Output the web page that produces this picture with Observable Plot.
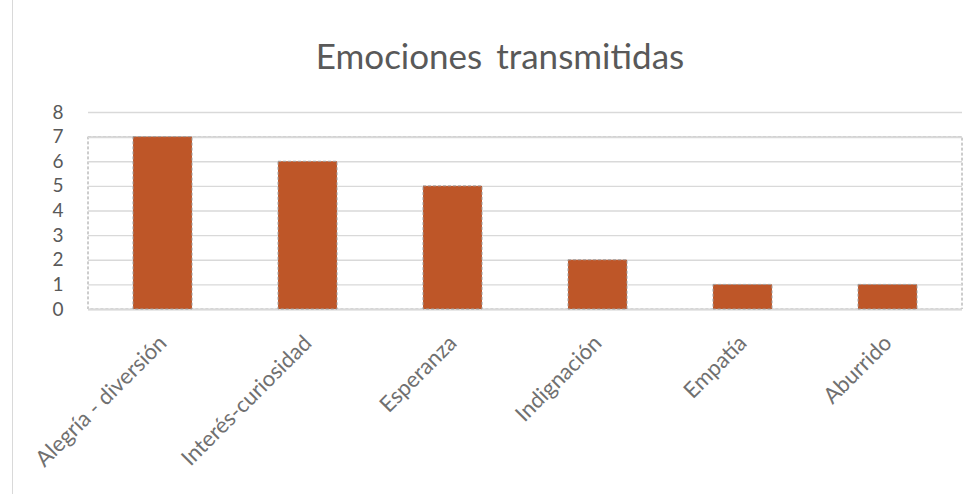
<!DOCTYPE html>
<html>
<head>
<meta charset="utf-8">
<script src="https://cdn.jsdelivr.net/npm/d3@7"></script>
<script src="https://cdn.jsdelivr.net/npm/@observablehq/plot@0.6"></script>
<style>
  html, body { margin: 0; padding: 0; background: #fff; }
  #wrap { position: relative; width: 976px; height: 494px; overflow: hidden; }
  #edge { position: absolute; left: 12px; top: 0; width: 0; height: 494px; border-left: 1px solid #d9d9d9; }
  #title { position: absolute; left: 0; width: 1000px; top: 34px; text-align: center;
           font-family: Lato, "Open Sans", sans-serif; font-size: 35px; color: #595959; word-spacing: 5px; }
  #chart { position: absolute; left: 0; top: 0; }
</style>
</head>
<body>
<div id="wrap">
  <div id="edge"></div>
  <div id="chart"></div>
  <div id="title">Emociones transmitidas</div>
</div>
<script>
const categories = ["Alegría - diversión", "Interés-curiosidad", "Esperanza", "Indignación", "Empatía", "Aburrido"];
const values = [7, 6, 5, 2, 1, 1];
const yTicks = [0, 1, 2, 3, 4, 5, 6, 7, 8];

const data = categories.map((c, i) => ({category: c, value: values[i]}));

const chart = Plot.plot({
  width: 976,
  height: 494,
  marginLeft: 88,
  marginRight: 14,
  marginTop: 112,
  marginBottom: 185,
  style: {fontFamily: "Lato, 'Open Sans', sans-serif", color: "#595959", background: "transparent"},
  x: {domain: categories, paddingInner: 0.59, paddingOuter: 0.295, label: null},
  y: {domain: [0, 8], ticks: yTicks, label: null},
  marks: [
    Plot.rect([{y1: 0, y2: 7}], {y1: "y1", y2: "y2", fill: "none", stroke: "#9a9a9a", strokeDasharray: "3,2"}),
    Plot.gridY(yTicks, {stroke: "#d9d9d9", strokeOpacity: 1, strokeWidth: 1.3}),
    Plot.ruleY([0, 7], {stroke: "#d9d9d9", strokeWidth: 2}),
    Plot.barY(data, {x: "category", y: "value", fill: "#BE5628", stroke: "#a0a0a0", strokeDasharray: "3,2", strokeWidth: 1}),
    Plot.axisY({ticks: yTicks, tickSize: 0, tickPadding: 25, fontSize: 19, fill: "#595959", label: null}),
    Plot.axisX({tickSize: 0, tickPadding: 30, tickRotate: -45, fontSize: 22, fill: "#707070", label: null})
  ]
});
document.getElementById("chart").appendChild(chart);
</script>
</body>
</html>
